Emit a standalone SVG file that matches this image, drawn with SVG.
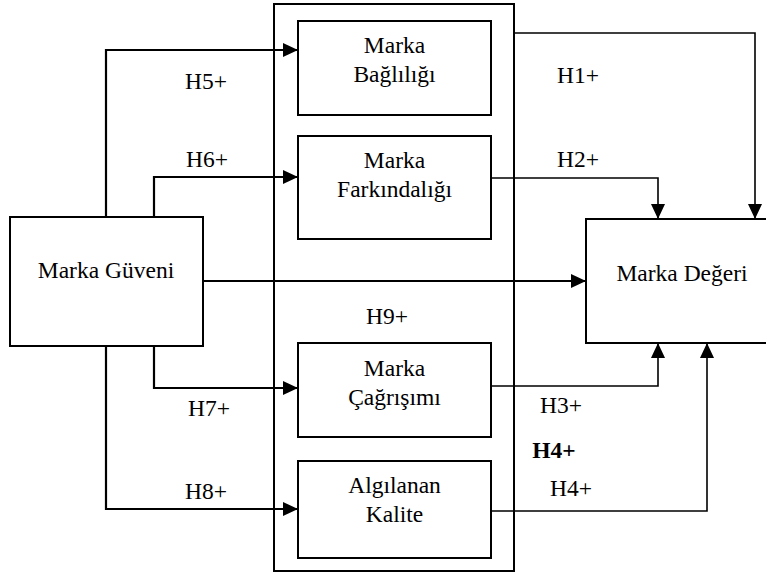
<svg xmlns="http://www.w3.org/2000/svg" width="766" height="574" viewBox="0 0 766 574">
<style>
.box{fill:#fff;stroke:#000;stroke-width:2}
.frame{fill:none;stroke:#000;stroke-width:2}
text{font-family:'Liberation Serif','Times New Roman','DejaVu Serif',serif;font-size:23.5px;fill:#000;text-anchor:middle}
.b{font-weight:bold}
.thick{fill:none;stroke:#000;stroke-width:2.2}
.thin{fill:none;stroke:#000;stroke-width:1.6}
</style>
<defs>
<marker id="ah" markerUnits="userSpaceOnUse" markerWidth="16" markerHeight="14" refX="15" refY="7" orient="auto">
<path d="M0,0 L15,7 L0,14 Z" fill="#000"/>
</marker>
</defs>
<rect width="766" height="574" fill="#fff"/>
<g id="container"><rect class="frame" x="274" y="4" width="240" height="567"/></g>
<g id="connectors">
<path class="thick" d="M106,217 V50 H298" marker-end="url(#ah)"/>
<path class="thick" d="M154,217 V177 H298" marker-end="url(#ah)"/>
<path class="thick" d="M154,346 V388 H298" marker-end="url(#ah)"/>
<path class="thick" d="M106,346 V509 H298" marker-end="url(#ah)"/>
<path class="thick" d="M203,281 H586" marker-end="url(#ah)"/>
<path class="thin" d="M514,33 H755 V219" marker-end="url(#ah)"/>
<path class="thin" d="M491,178 H658 V219" marker-end="url(#ah)"/>
<path class="thin" d="M491,386 H658 V343" marker-end="url(#ah)"/>
<path class="thin" d="M491,511 H707 V343" marker-end="url(#ah)"/>
</g>
<g font-family="Liberation Serif, serif">
<g id="guveni"><rect class="box" x="10" y="217" width="193" height="129"/><text x="106" y="278">Marka Güveni</text></g>
<g id="baglilik"><rect class="box" x="298" y="21" width="193" height="94"/><text x="394.5" y="53">Marka</text><text x="394.5" y="82">Bağlılığı</text></g>
<g id="farkindalik"><rect class="box" x="298" y="136" width="193" height="103"/><text x="394.5" y="168">Marka</text><text x="394.5" y="197">Farkındalığı</text></g>
<g id="cagrisim"><rect class="box" x="298" y="343" width="193" height="94"/><text x="394.5" y="376">Marka</text><text x="394.5" y="405">Çağrışımı</text></g>
<g id="kalite"><rect class="box" x="298" y="461" width="193" height="97"/><text x="394.5" y="493">Algılanan</text><text x="394.5" y="522">Kalite</text></g>
<g id="deger"><rect class="box" x="586" y="219" width="184" height="124"/><text x="682" y="281">Marka Değeri</text></g>
<g id="labels">
<text x="206" y="89">H5+</text>
<text x="207" y="167">H6+</text>
<text x="209" y="416">H7+</text>
<text x="206" y="499">H8+</text>
<text x="387" y="324">H9+</text>
<text x="578" y="83">H1+</text>
<text x="578" y="167">H2+</text>
<text x="561" y="413">H3+</text>
<text class="b" x="554" y="458">H4+</text>
<text x="571" y="496">H4+</text>
</g>
</g>
</svg>
